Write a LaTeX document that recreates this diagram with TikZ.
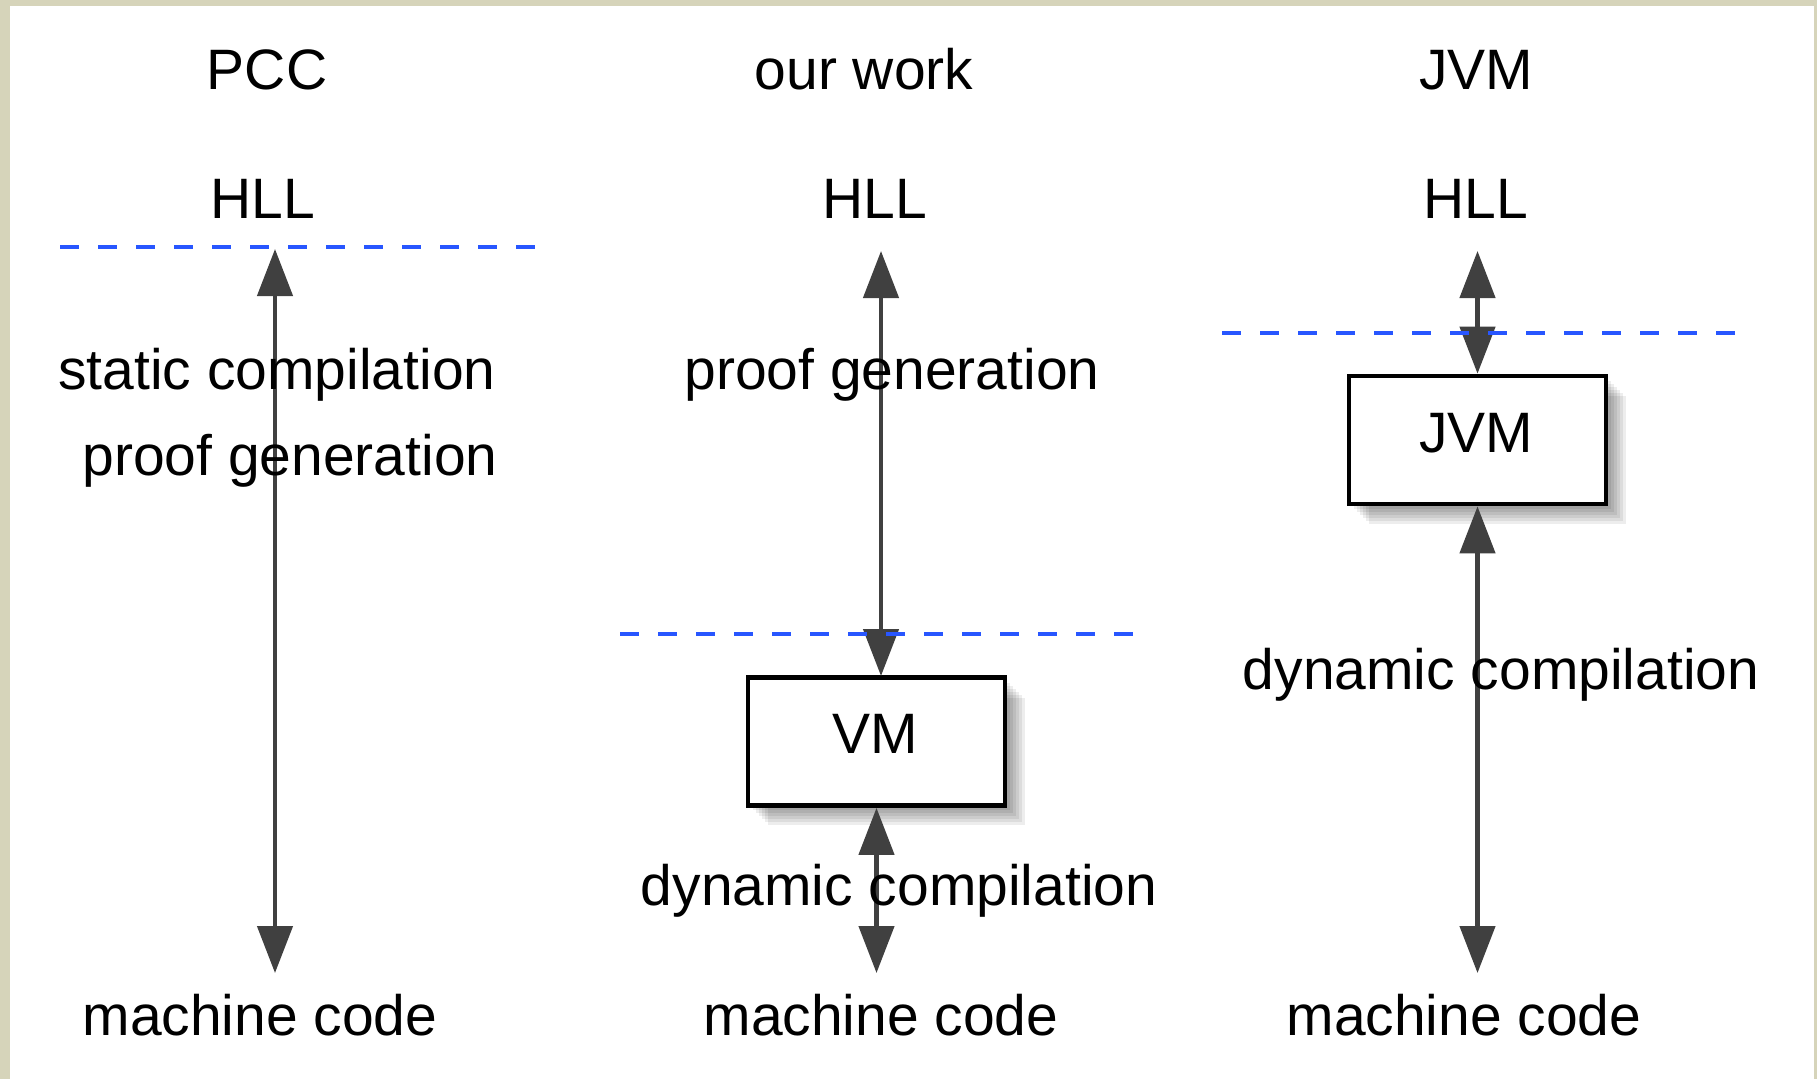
\documentclass[tikz,border=0pt]{standalone}
\usepackage{fontspec}
\setmainfont{Liberation Sans}
\usetikzlibrary{arrows.meta}

\definecolor{frame}{RGB}{214,212,186}
\definecolor{tipgray}{RGB}{64,64,64}
\definecolor{dashblue}{RGB}{40,86,255}

\tikzset{
  lbl/.style={anchor=base, inner sep=0pt, font=\fontsize{57}{68}\selectfont},
  flow/.style={draw=tipgray, line width=4.5pt,
    {Triangle[length=47pt,width=35pt]}-{Triangle[length=47pt,width=35pt]},
    shorten >=0pt, shorten <=0pt},
  layer/.style={draw=dashblue, line width=4.2pt, dash pattern=on 19pt off 19pt},
  machine/.style={draw=black, line width=4.7pt, fill=white, inner sep=0pt,
    minimum width=257pt, minimum height=128pt},
  shade/.style={fill=black, fill opacity=0.07, draw=none}
}

\begin{document}
\begin{tikzpicture}[x=1pt,y=-1pt]
  % page and frame
  \fill[frame] (0,0) rectangle (1817,1079);
  \fill[white] (10,6) rectangle (1814,1079);
  \useasboundingbox (0,0) rectangle (1817,1079);

  % column titles
  \node[lbl] (tpcc) at (267,89) {PCC};
  \node[lbl] (twork) at (864,89) {our work};
  \node[lbl] (tjvm) at (1476,89) {JVM};

  % source level
  \node[lbl] (hllA) at (263,218) {HLL};
  \node[lbl] (hllB) at (875,218) {HLL};
  \node[lbl] (hllC) at (1476,218) {HLL};

  % target level
  \node[lbl] (mcA) at (260,1035) {machine code};
  \node[lbl] (mcB) at (881,1035) {machine code};
  \node[lbl] (mcC) at (1464,1035) {machine code};

  % virtual machines with soft shadows
  \foreach \d in {5,8,11,14,17,20} {
    \fill[shade] (748+\d,678+\d) rectangle (1005+\d,805+\d);
    \fill[shade] (1349+\d,376+\d) rectangle (1606+\d,504+\d);
  }
  \node[machine] (vm) at (876.5,741.5) {};
  \node[machine] (jvm) at (1477.5,440) {};

  % arrow end points
  \coordinate (pTop) at (275,249);
  \coordinate (pBot) at (275,973);
  \coordinate (wTop) at (881,251);
  \coordinate (wVM) at (881,676);
  \coordinate (wBot) at (876.5,973);
  \coordinate (jTop) at (1477.5,251);
  \coordinate (jBot) at (1477.5,973);

  % connectors
  \draw[flow] (pTop) -- (pBot);
  \draw[flow] (wTop) -- (wVM);
  \draw[flow] (vm.south) -- (wBot);
  \draw[flow] (jTop) -- (jvm.north);
  \draw[flow] (jvm.south) -- (jBot);

  % box labels
  \node[lbl] (vmtext) at (875,753) {VM};
  \node[lbl] (jvmtext) at (1476,452) {JVM};

  % transition labels
  \node[lbl] (stat) at (277,389) {static compilation};
  \node[lbl] (proofA) at (290,475) {proof generation};
  \node[lbl] (proofB) at (892,389) {proof generation};
  \node[lbl] (dynB) at (899,905) {dynamic compilation};
  \node[lbl] (dynC) at (1501,689) {dynamic compilation};

  % trust boundaries
  \draw[layer] (60,247) -- (536,247);
  \draw[layer] (620,634) -- (1134,634);
  \draw[layer] (1222,333) -- (1736,333);
\end{tikzpicture}
\end{document}
